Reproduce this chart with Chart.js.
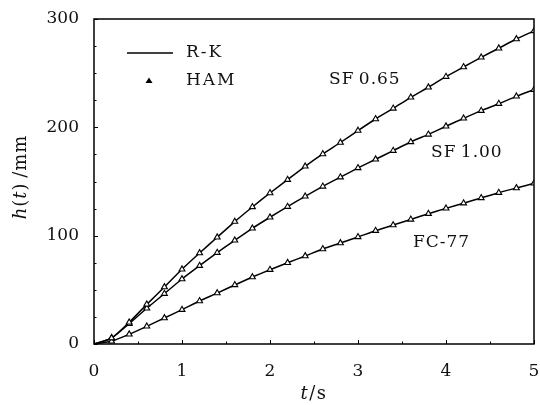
<!DOCTYPE html>
<html>
<head>
<meta charset="utf-8">
<script src="https://cdn.jsdelivr.net/npm/chart.js@4.4.1/dist/chart.umd.min.js"></script>
<style>
  html, body { margin: 0; padding: 0; background: #fff; }
  #wrap { width: 540px; height: 405px; }
</style>
</head>
<body>
<div id="wrap"><canvas id="chart" width="540" height="405"></canvas></div>
<script>
// time points (s) of the HAM markers
const times = [0.2, 0.4, 0.6, 0.8, 1.0, 1.2, 1.4, 1.6, 1.8, 2.0, 2.2, 2.4, 2.6,
  2.8, 3.0, 3.2, 3.4, 3.6, 3.8, 4.0, 4.2, 4.4, 4.6, 4.8, 5.0];

// h(t) in mm
const sf065 = [5.5, 20, 36.6, 52.6, 69, 84, 98.5, 113, 126.5, 139.4, 151.7, 164, 175.4,
  186, 197, 207.7, 217.5, 227.7, 237, 246.8, 255.7, 264.6, 273, 281.5, 289];
const sf100 = [5.5, 18.8, 33, 46.5, 60, 72.3, 84.3, 95.7, 106.8, 117, 126.8, 136.3, 145.5,
  154, 162.5, 170.5, 178.5, 186.5, 193.5, 201, 208.3, 215.4, 221.8, 228.6, 234.8];
const fc77 = [2.5, 9, 16.3, 24, 31.7, 39.7, 47, 54.5, 61.8, 68.6, 75, 81.2, 87.7,
  93.2, 98.8, 104.6, 109.8, 115, 120.3, 125.2, 130, 134.8, 139.7, 144, 148.3];

const xTicks = [0, 1, 2, 3, 4, 5];
const yTicks = [0, 100, 200, 300];

const FONT = "'DejaVu Serif', serif";

function pts(vals) {
  // R-K line starts at the origin
  return [{x: 0, y: 0}].concat(vals.map((v, i) => ({x: times[i], y: v})));
}

function series(vals, label) {
  return {
    label: label,
    data: pts(vals),
    borderColor: "#000",
    borderWidth: 1.5,
    backgroundColor: "#fff",
    pointStyle: "triangle",
    pointRadius: ctx => (ctx.dataIndex === 0 ? 0 : 3.4),
    pointBorderColor: "#000",
    pointBorderWidth: 1.1,
    tension: 0.2,
    showLine: true
  };
}

// frame, inward ticks, titles, labels and legend
const decor = {
  id: "decor",
  afterDraw(chart) {
    const c = chart.ctx;
    const a = chart.chartArea;
    const xs = chart.scales.x, ys = chart.scales.y;
    c.save();
    c.strokeStyle = "#000";
    c.lineWidth = 1.5;
    c.strokeRect(a.left, a.top, a.right - a.left, a.bottom - a.top);

    c.lineWidth = 1;
    c.beginPath();
    for (let t = 0; t <= 5.001; t += 0.5) {
      const px = Math.round(xs.getPixelForValue(t)) + 0.5;
      const len = Math.abs(t - Math.round(t)) < 0.01 ? 4 : 2.5;
      c.moveTo(px, a.bottom);
      c.lineTo(px, a.bottom - len);
    }
    for (let v = 0; v <= 300.1; v += 25) {
      const py = Math.round(ys.getPixelForValue(v)) + 0.5;
      const len = v % 100 === 0 ? 4 : 2.5;
      c.moveTo(a.left, py);
      c.lineTo(a.left + len, py);
    }
    c.stroke();

    c.fillStyle = "#111";
    c.textBaseline = "middle";
    c.textAlign = "left";

    // draws mixed italic / upright runs, centred on cx
    function runs(parts, cx, cy) {
      let total = 0;
      parts.forEach(p => {
        c.font = (p[1] ? "italic " : "") + "18px " + FONT;
        total += c.measureText(p[0]).width;
      });
      let px = cx - total / 2;
      parts.forEach(p => {
        c.font = (p[1] ? "italic " : "") + "18px " + FONT;
        c.fillText(p[0], px, cy);
        px += c.measureText(p[0]).width;
      });
    }

    c.letterSpacing = "1.5px";
    // x title: t/s
    runs([["t", true], ["/s", false]], (a.left + a.right) / 2, 394);

    // y title: h(t) /mm, rotated
    c.save();
    c.translate(21, 177);
    c.rotate(-Math.PI / 2);
    c.letterSpacing = "1px";
    runs([["h", true], ["(", false], ["t", true], [")\u2009/mm", false]], 0, 0);
    c.restore();

    // curve labels
    c.font = "17px " + FONT;
    c.letterSpacing = "1px";
    c.fillText("SF\u20090.65", 329, 80);
    c.fillText("SF\u20091.00", 431, 153);
    c.fillText("FC-77", 413, 243);

    // legend
    c.lineWidth = 1.5;
    c.beginPath();
    c.moveTo(127, 53);
    c.lineTo(173, 53);
    c.stroke();
    c.fillStyle = "#000";
    c.beginPath();
    c.moveTo(149, 77.5);
    c.lineTo(152.5, 83);
    c.lineTo(145.5, 83);
    c.closePath();
    c.fill();
    c.fillStyle = "#111";
    c.letterSpacing = "2px";
    c.fillText("R-K", 186, 53);
    c.fillText("HAM", 186, 81);
    c.restore();
  }
};

new Chart(document.getElementById("chart"), {
  type: "scatter",
  data: {
    datasets: [series(sf065, "SF 0.65"), series(sf100, "SF 1.00"), series(fc77, "FC-77")]
  },
  options: {
    responsive: false,
    animation: false,
    layout: { padding: { left: 0, top: 19, right: 6, bottom: 0 } },
    plugins: { legend: { display: false }, tooltip: { enabled: false } },
    scales: {
      x: {
        type: "linear",
        min: 0, max: 5,
        afterFit: s => { s.height = 61; s.paddingLeft = 0; s.paddingRight = 0; },
        afterBuildTicks: s => { s.ticks = xTicks.map(v => ({value: v})); },
        grid: { display: false },
        border: { display: false },
        ticks: { color: "#111", padding: 9, maxRotation: 0, font: { family: FONT, size: 17 } }
      },
      y: {
        type: "linear",
        min: 0, max: 300,
        afterFit: s => { s.width = 94; s.paddingTop = 0; s.paddingBottom = 0; },
        afterBuildTicks: s => { s.ticks = yTicks.map(v => ({value: v})); },
        grid: { display: false },
        border: { display: false },
        ticks: { color: "#111", padding: 7, font: { family: FONT, size: 17 } }
      }
    }
  },
  plugins: [decor]
});
</script>
</body>
</html>
